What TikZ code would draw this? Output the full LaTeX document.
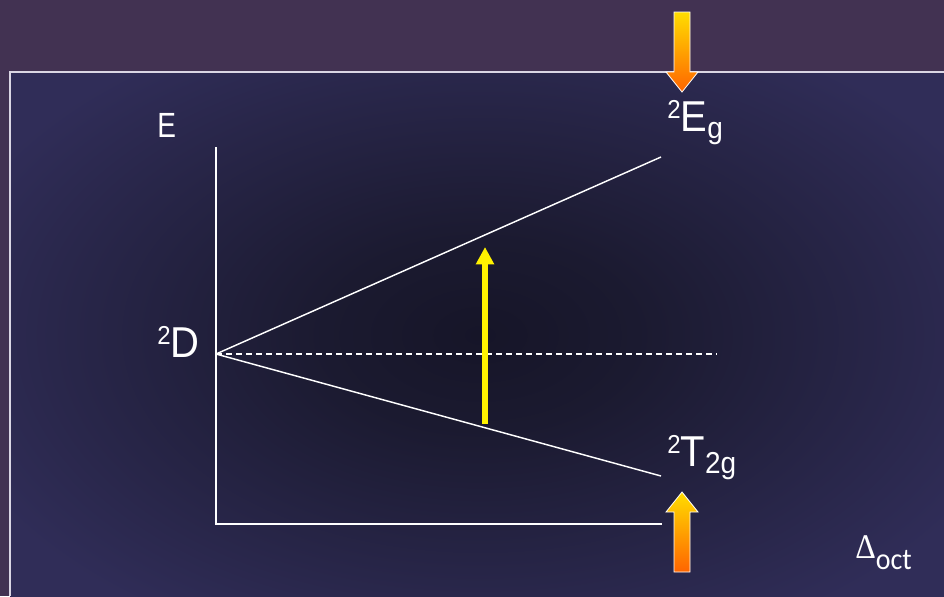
\documentclass[tikz,border=0pt]{standalone}
\usepackage{fontspec}
\setmainfont{Liberation Sans}
\newfontfamily\deltafont{Liberation Serif}
\newfontfamily\octfont{Carlito}
\usepackage{graphicx}
\usepackage{xcolor}
\definecolor{BandPurple}{RGB}{66,50,82}
\definecolor{SlideBlue}{RGB}{48,45,88}
\definecolor{GlowDark}{RGB}{22,21,40}
\definecolor{GlowMid}{RGB}{27,26,48}
\definecolor{FrameGray}{RGB}{218,214,228}
\definecolor{ArrowYellow}{RGB}{255,221,0}
\definecolor{ArrowOrange}{RGB}{255,100,0}
\usepackage{tikz}
\usetikzlibrary{arrows.meta}
\pgfdeclareradialshading{centreglow}{\pgfpoint{0bp}{0bp}}{color(0bp)=(GlowDark); color(7bp)=(GlowMid); color(25bp)=(SlideBlue); color(50bp)=(SlideBlue)}
\newcommand{\tall}[1]{\scalebox{1}[1.08]{#1}}
\newcommand{\up}[1]{\raisebox{9pt}{\fontsize{18}{18}\selectfont #1}}
\newcommand{\dn}[1]{\raisebox{-5.5pt}{\fontsize{21}{21}\selectfont #1}}
\tikzset{
  lbl/.style={text=white, inner sep=0pt, anchor=base west, font=\fontsize{30}{32}\selectfont},
  level/.style={white, line width=1.1pt},
  bigarrow/.style={top color=ArrowYellow, bottom color=ArrowOrange, draw=white, line width=0.6pt}
}

\begin{document}
\begin{tikzpicture}[x=0.75pt, y=-0.75pt]
  \useasboundingbox (0,0) rectangle (944,596);
  % Fondo
  \fill[BandPurple] (0,0) rectangle (944,596);
  \begin{scope}
    \clip (10,72) rectangle (944,596);
    \shade[shading=centreglow] (-80,-5) rectangle (1040,675);
  \end{scope}
  \draw[FrameGray, line width=1.5pt] (10,596) -- (10,72) -- (944,72);
  % Ejes
  \coordinate (ytop) at (216,147);
  \coordinate (orig) at (216,524);
  \coordinate (xend) at (662,524);
  \draw[level] (ytop) -- (orig) -- (xend);
  % Niveles
  \coordinate (D) at (216,354);
  \coordinate (Eg) at (661,157);
  \coordinate (T2g) at (661,476);
  \coordinate (dashend) at (717,354);
  \draw[level] (D) -- (Eg);
  \draw[level] (D) -- (T2g);
  \draw[white, line width=0.9pt, dash pattern=on 4.5pt off 3pt] (D) -- (dashend);
  % Transicion
  \coordinate (translo) at (485,424);
  \coordinate (transhi) at (485,247);
  \draw[yellow, line width=4.5pt, -{Triangle[width=13pt, length=13pt]}] (translo) -- (transhi);
  % Flechas grandes
  \shadedraw[bigarrow] (674,12) -- (690,12) -- (690,72) -- (698,72) -- (682,92) -- (666,72) -- (674,72) -- cycle;
  \shadedraw[bigarrow] (674,572) -- (690,572) -- (690,512) -- (698,512) -- (682,492) -- (666,512) -- (674,512) -- cycle;
  % Etiquetas
  \node[lbl, font=\fontsize{21}{23}\selectfont] (Elbl) at (157,137) {\scalebox{1}[1.25]{E}};
  \node[lbl] (Dlbl) at (157,357) {\tall{\up{2}D}};
  \node[lbl] (Eglbl) at (667,131) {\tall{\up{2}E\dn{g}}};
  \node[lbl] (Tlbl) at (667,466) {\tall{\up{2}T\dn{2g}}};
  \node[lbl] (dlbl) at (855,558) {\tall{{\deltafont\fontsize{24}{26}\selectfont Δ}\raisebox{-8pt}{\octfont\fontsize{21}{23}\selectfont oct}}};
\end{tikzpicture}
\end{document}
